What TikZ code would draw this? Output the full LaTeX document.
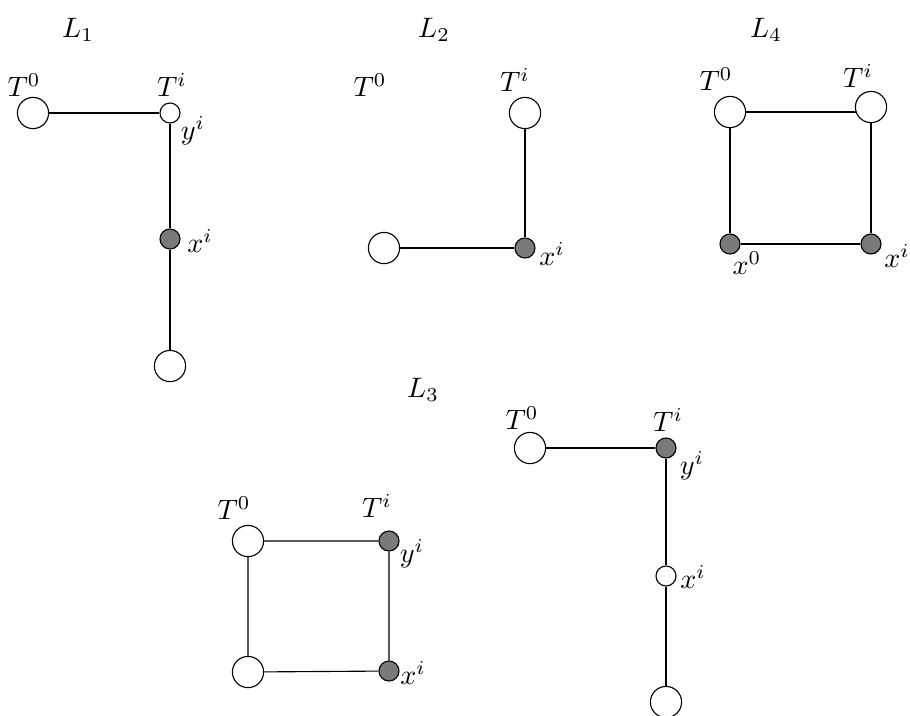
\documentclass[tikz,border=0pt]{standalone}
\usepackage{amsmath}
\usepackage{tikz}
\usetikzlibrary{positioning,backgrounds}
\definecolor{vgray}{HTML}{7A7A7A}

\begin{document}
\begin{tikzpicture}[x=0.0125cm,y=-0.0125cm,
  big/.style={circle,draw,fill=white,minimum size=0.39cm,inner sep=0pt},
  small/.style={circle,draw,fill=white,minimum size=0.25cm,inner sep=0pt},
  dark/.style={small,fill=vgray},
  lbl/.style={inner sep=0pt},
  edge/.style={draw=black!80}]
\useasboundingbox (0,0) rectangle (910,715);
% L1: T^0 -- T^i, then down to x^i and a free leaf
\node (ll1) at (78,30) {$L_1$};
\node[big] (a0) at (33,113) {};
\node[small] (ai) at (170,113) {};
\node[dark] (ax) at (170,239) {};
\node[big] (ab) at (170,366) {};
\node[lbl] (a0t) at (24,85) {$T^0$};
\node[lbl] (ait) at (172,85) {$T^i$};
\node[lbl] (ayt) at (193,131) {$y^i$};
\node[lbl] (axt) at (200,241) {$x^i$};
% L2: T^0 is cut off
\node (ll2) at (434,30) {$L_2$};
\node[lbl] (b0t) at (370,85) {$T^0$};
\node[big] (bi) at (525,113) {};
\node[dark] (bx) at (525,248) {};
\node[big] (bl) at (384,248) {};
\node[lbl] (bit) at (515,80) {$T^i$};
\node[lbl] (bxt) at (552,254) {$x^i$};
% L4: square T^0, T^i, x^i, x^0
\node (ll4) at (766,30) {$L_4$};
\node[big] (c0) at (730,112) {};
\node[big] (ci) at (871,107) {};
\node[dark] (cx0) at (730,244) {};
\node[dark] (cxi) at (871,244) {};
\node[lbl] (c0t) at (716,79) {$T^0$};
\node[lbl] (cit) at (858,76) {$T^i$};
\node[lbl] (cx0t) at (747,263) {$x^0$};
\node[lbl] (cxit) at (897,256) {$x^i$};
% L3 (left): square with y^i and x^i dark
\node (ll3) at (423,390) {$L_3$};
\node[big] (d0) at (248,541) {};
\node[dark] (di) at (389,541) {};
\node[big] (db) at (248,672) {};
\node[dark] (dx) at (389,671) {};
\node[lbl] (d0t) at (234,508) {$T^0$};
\node[lbl] (dit) at (377,506) {$T^i$};
\node[lbl] (dyt) at (412,554) {$y^i$};
\node[lbl] (dxt) at (413,673) {$x^i$};
% L3 (right): y^i dark, x^i light
\node[big] (e0) at (530,448) {};
\node[dark] (ei) at (666,448) {};
\node[small] (ex) at (666,576) {};
\node[big] (eb) at (666,702) {};
\node[lbl] (e0t) at (522,418) {$T^0$};
\node[lbl] (eit) at (668,420) {$T^i$};
\node[lbl] (eyt) at (692,466) {$y^i$};
\node[lbl] (ext) at (693,577) {$x^i$};
% edges, under the circles
\begin{scope}[on background layer,edge]
\draw (a0) -- (ai) -- (ax) -- (ab);
\draw (bi) -- (bx) -- (bl);
\draw (c0) -- (c0 -| ci);
\draw (ci) -- (cxi) -- (cx0) -- (c0);
\draw (d0) -- (di) -- (dx) -- (db) -- (d0);
\draw (e0) -- (ei) -- (ex) -- (eb);
\end{scope}
\end{tikzpicture}
\end{document}
